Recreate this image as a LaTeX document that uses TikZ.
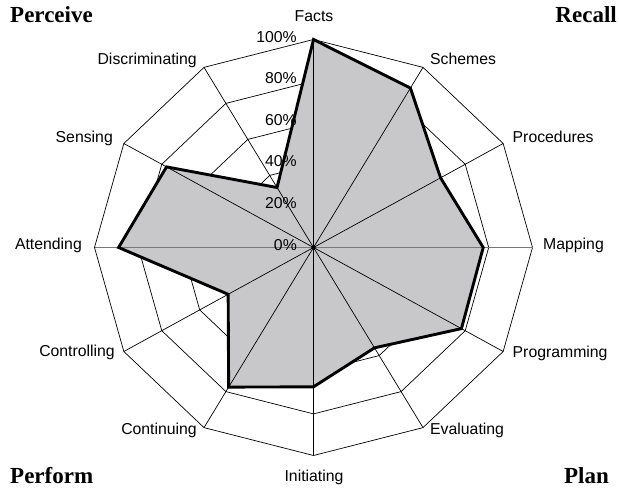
\documentclass[tikz,border=0pt]{standalone}
\usepackage{fontspec}
\setmainfont{Liberation Sans}
\newfontfamily\titlefont{Liberation Serif}
\definecolor{areagray}{RGB}{200,200,203}
\definecolor{axisgray}{RGB}{120,120,120}
\tikzset{
  gridline/.style={black, line width=0.7pt},
  spoke/.style={black, line width=0.7pt},
  hspoke/.style={axisgray, line width=1.6pt},
  outline/.style={black, line width=2.9pt, line join=miter},
  axlabel/.style={inner sep=0pt, font=\fontsize{15.8}{18}\selectfont},
  ticklabel/.style={inner sep=0pt, anchor=mid east, font=\fontsize{15.8}{18}\selectfont},
  corner/.style={inner sep=0pt, font=\titlefont\bfseries\fontsize{23}{26}\selectfont},
}
\begin{document}
\begin{tikzpicture}[x=1pt,y=1pt]
\useasboundingbox (0,0) rectangle (619,492);
\coordinate (c) at (313.5,244.5);
\begin{scope}[shift={(313.5,244.5)}, x=219pt, y=208pt]
  % axis tips
  \foreach \i/\a in {1/90,2/60,3/30,4/0,5/-30,6/-60,7/-90,8/-120,9/-150,10/180,11/150,12/120}{
    \coordinate (t\i) at (\a:1);
  }
  % rings
  \foreach \r in {0.2,0.4,0.6,0.8,1.0}{
    \draw[gridline] (90:\r) -- (60:\r) -- (30:\r) -- (0:\r) -- (-30:\r) -- (-60:\r) -- (-90:\r)
      -- (-120:\r) -- (-150:\r) -- (180:\r) -- (150:\r) -- (120:\r) -- cycle;
  }
  % data
  \coordinate (d1) at (90:1.0);
  \coordinate (d2) at (60:0.885);
  \coordinate (d3) at (30:0.67);
  \coordinate (d4) at (0:0.775);
  \coordinate (d5) at (-30:0.78);
  \coordinate (d6) at (-60:0.557);
  \coordinate (d7) at (-90:0.67);
  \coordinate (d8) at (-120:0.775);
  \coordinate (d9) at (-150:0.45);
  \coordinate (d10) at (180:0.89);
  \coordinate (d11) at (150:0.775);
  \coordinate (d12) at (120:0.333);
  \fill[areagray] (d1) -- (d2) -- (d3) -- (d4) -- (d5) -- (d6) -- (d7) -- (d8) -- (d9) -- (d10) -- (d11) -- (d12) -- cycle;
\end{scope}
% spokes
\foreach \i in {1,2,3,5,6,7,8,9,11,12}{
  \draw[spoke] (c) -- (t\i);
}
\draw[hspoke] (t10) -- (t4);
\draw[outline] (d1) -- (d2) -- (d3) -- (d4) -- (d5) -- (d6) -- (d7) -- (d8) -- (d9) -- (d10) -- (d11) -- (d12) -- cycle;
\fill[black] (c) circle (2.2pt);
% tick labels
\node[ticklabel] (p0) at (297,244.5) {0\%};
\node[ticklabel] (p20) at (297,286.1) {20\%};
\node[ticklabel] (p40) at (297,327.7) {40\%};
\node[ticklabel] (p60) at (297,369.3) {60\%};
\node[ticklabel] (p80) at (297,410.9) {80\%};
\node[ticklabel] (p100) at (297,452.5) {100\%};
% axis labels
\node[axlabel, anchor=center] (lfacts) at (314,476) {Facts};
\node[axlabel, anchor=mid west] (lschemes) at (430,430) {Schemes};
\node[axlabel, anchor=mid west] (lproc) at (512.5,352) {Procedures};
\node[axlabel, anchor=mid west] (lmap) at (543,245) {Mapping};
\node[axlabel, anchor=mid west] (lprog) at (512.5,137) {Programming};
\node[axlabel, anchor=mid west] (leval) at (430,60) {Evaluating};
\node[axlabel, anchor=center] (linit) at (314,15) {Initiating};
\node[axlabel, anchor=mid east] (lcont) at (197,60) {Continuing};
\node[axlabel, anchor=mid east] (lctrl) at (115,138) {Controlling};
\node[axlabel, anchor=mid east] (latt) at (82,245) {Attending};
\node[axlabel, anchor=mid east] (lsens) at (113,352) {Sensing};
\node[axlabel, anchor=mid east] (ldisc) at (197,430) {Discriminating};
% corner titles
\node[corner, anchor=mid west] (perceive) at (10,472) {Perceive};
\node[corner, anchor=mid east] (recall) at (617,472) {Recall};
\node[corner, anchor=mid west] (perform) at (10,11) {Perform};
\node[corner, anchor=mid east] (plan) at (609,11) {Plan};
\end{tikzpicture}
\end{document}
